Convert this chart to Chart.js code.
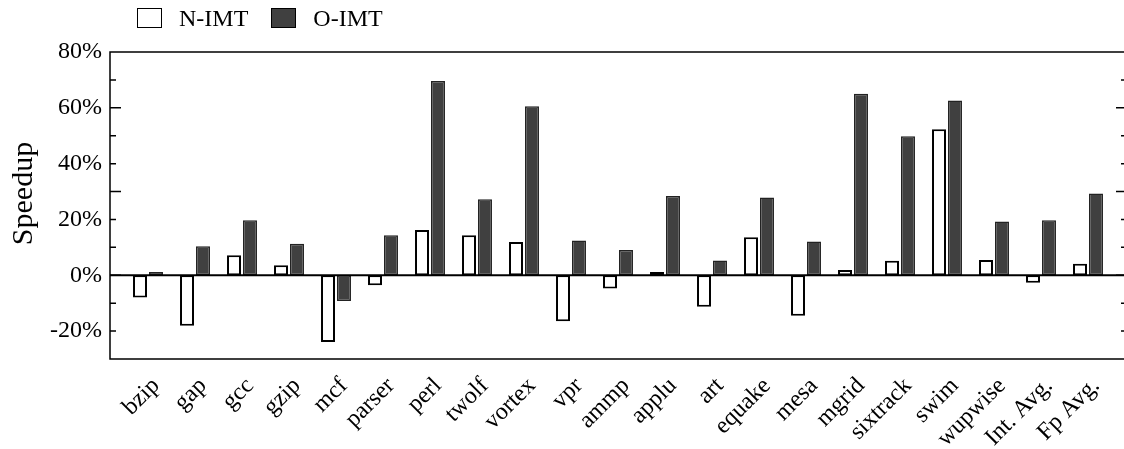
<!DOCTYPE html>
<html>
<head>
<meta charset="utf-8">
<script src="https://cdn.jsdelivr.net/npm/chart.js@4.4.1/dist/chart.umd.min.js"></script>
<style>
  html, body { margin: 0; padding: 0; background: #fff; }
  #wrap { position: relative; width: 1124px; height: 449px; }
  #legend {
    position: absolute; left: 137px; top: 8px;
    display: flex; align-items: center;
    font: 24px "Liberation Serif", "Times New Roman", serif; color: #000;
  }
  #legend .item { display: flex; align-items: center; margin-right: 23px; height: 20px; }
  #legend .box { width: 25px; height: 20px; box-sizing: border-box; border: 1.5px solid #000; margin-right: 17px; }
</style>
</head>
<body>
<div id="wrap">
  <canvas id="speedupChart" width="1124" height="449"></canvas>
  <div id="legend"></div>
</div>
<script>
const benchmarks = ['bzip', 'gap', 'gcc', 'gzip', 'mcf', 'parser', 'perl', 'twolf', 'vortex', 'vpr',
  'ammp', 'applu', 'art', 'equake', 'mesa', 'mgrid', 'sixtrack', 'swim', 'wupwise', 'Int. Avg.', 'Fp Avg.'];
const nImt = [-8.0, -18.1, 7.2, 3.6, -23.9, -3.6, 16.2, 14.3, 11.9, -16.5,
  -4.7, 1.2, -11.3, 13.6, -14.5, 1.9, 5.2, 52.3, 5.5, -2.7, 4.1];
const oImt = [1.2, 10.4, 19.7, 11.3, -9.2, 14.3, 69.6, 27.2, 60.6, 12.5,
  9.1, 28.4, 5.3, 27.9, 12.1, 65.0, 49.8, 62.6, 19.3, 19.7, 29.3];
const yTicks = [-20, 0, 20, 40, 60, 80];

const serif = '"Liberation Serif", "Times New Roman", serif';
Chart.defaults.font.family = serif;
Chart.defaults.color = '#000';

// box around the plot, zero line, small inward ticks and the axis title
const frame = {
  id: 'frame',
  afterDatasetsDraw(chart) {
    const { ctx, chartArea: a, scales: { y } } = chart;
    ctx.save();
    ctx.strokeStyle = '#000';
    ctx.lineWidth = 1.5;
    ctx.beginPath();
    ctx.moveTo(a.right, a.top);
    ctx.lineTo(a.left, a.top);
    ctx.lineTo(a.left, a.bottom);
    ctx.lineTo(a.right, a.bottom);
    ctx.stroke();

    for (let v = -20; v <= 70; v += 10) {
      const p = y.getPixelForValue(v);
      const major = (v + 30) % 30 === 0;
      ctx.beginPath();
      ctx.moveTo(a.left, p);
      ctx.lineTo(a.left + (major ? 11 : 6), p);
      ctx.moveTo(a.right - (major ? 8 : 3), p);
      ctx.lineTo(a.right, p);
      ctx.stroke();
    }

    const z = y.getPixelForValue(0);
    ctx.lineWidth = 2;
    ctx.beginPath();
    ctx.moveTo(a.left, z);
    ctx.lineTo(a.right, z);
    ctx.stroke();

    ctx.translate(24, y.getPixelForValue(29.3));
    ctx.rotate(-Math.PI / 2);
    ctx.fillStyle = '#000';
    ctx.font = '30px ' + serif;
    ctx.textAlign = 'center';
    ctx.textBaseline = 'middle';
    ctx.fillText('Speedup', 0, 0);
    ctx.restore();
  }
};

const chart = new Chart('speedupChart', {
  type: 'bar',
  data: {
    datasets: [
      {
        label: 'N-IMT',
        data: benchmarks.map((b, i) => ({ x: i, y: nImt[i] })),
        backgroundColor: '#ffffff',
        borderColor: '#000000',
        borderWidth: 2,
        borderSkipped: false
      },
      {
        label: 'O-IMT',
        data: benchmarks.map((b, i) => ({ x: i, y: oImt[i] })),
        backgroundColor: '#404040',
        borderColor: '#222222',
        borderWidth: 1.5,
        borderSkipped: false
      }
    ]
  },
  options: {
    responsive: false,
    animation: false,
    layout: { padding: { top: 52, left: 0, right: 0, bottom: 0 } },
    datasets: { bar: { categoryPercentage: 0.68, barPercentage: 0.875 } },
    plugins: {
      legend: { display: false },
      tooltip: { enabled: false }
    },
    scales: {
      x: {
        type: 'linear',
        min: -0.8085,
        max: 20.766,
        offset: false,
        grid: { display: false },
        border: { display: false },
        afterBuildTicks: s => { s.ticks = benchmarks.map((b, i) => ({ value: i })); },
        ticks: {
          autoSkip: false,
          minRotation: 45,
          maxRotation: 45,
          padding: 5,
          labelOffset: 8,
          font: { size: 24 },
          callback: v => benchmarks[v]
        },
        afterFit: s => { s.height = 90; s.paddingLeft = 0; s.paddingRight = 0; }
      },
      y: {
        min: -30,
        max: 80,
        grid: { display: false, drawTicks: false },
        border: { display: false },
        afterBuildTicks: s => { s.ticks = yTicks.map(v => ({ value: v })); },
        ticks: {
          padding: 8,
          font: { size: 24 },
          callback: v => v + '%'
        },
        afterFit: s => { s.width = 110; s.paddingTop = 0; s.paddingBottom = 0; }
      }
    }
  },
  plugins: [frame]
});

// legend built from the datasets
const legend = document.getElementById('legend');
chart.data.datasets.forEach(ds => {
  const item = document.createElement('div');
  item.className = 'item';
  const box = document.createElement('span');
  box.className = 'box';
  box.style.background = ds.backgroundColor;
  const text = document.createElement('span');
  text.textContent = ds.label;
  item.appendChild(box);
  item.appendChild(text);
  legend.appendChild(item);
});
</script>
</body>
</html>
